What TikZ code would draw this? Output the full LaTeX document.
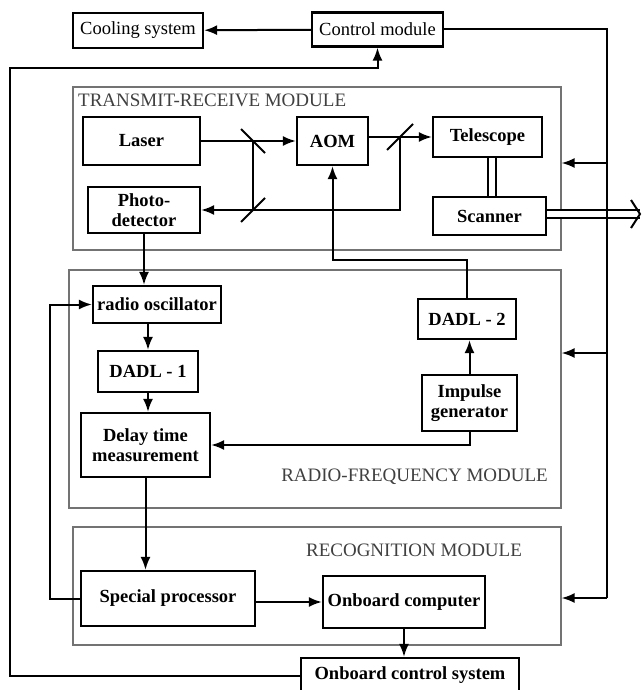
\documentclass[tikz,border=0pt]{standalone}
\usepackage{fontspec}
\setmainfont{Liberation Serif}
\usetikzlibrary{arrows.meta}

\begin{document}
\begin{tikzpicture}[x=1pt,y=-1pt,
  blk/.style={draw,line width=2.2pt,font=\fontsize{18.5}{20}\selectfont\bfseries,align=center,inner sep=0},
  plainblk/.style={blk,font=\fontsize{18.5}{20}\selectfont},
  module/.style={draw=black!55,line width=1.1pt,inner sep=0},
  modlabel/.style={text=black!75,font=\fontsize{19}{20}\selectfont,inner sep=0},
  ln/.style={line width=2pt},
  arr/.style={ln,-{Latex[length=13pt,width=10pt]}}]
\clip (0,0) rectangle (641,690);
\fill[white] (0,0) rectangle (641,690);
% modules
\node[module,minimum width=488,minimum height=163] (trm) at (317,168.5) {};
\node[module,minimum width=492,minimum height=238] (rfm) at (315,389) {};
\node[module,minimum width=488,minimum height=118] (recm) at (317,586) {};
\node[modlabel,anchor=west] (trlab) at (78,100) {TRANSMIT-RECEIVE MODULE};
\node[modlabel,anchor=east] (rflab) at (548,477) {RADIO-FREQUENCY MODULE};
\node[modlabel] (reclab) at (414,550) {RECOGNITION MODULE};
% top
\node[plainblk,minimum width=130,minimum height=35] (cool) at (138,30.5) {Cooling system};
\node[plainblk,minimum width=131,minimum height=34] (ctrl) at (377.5,29.5) {Control module};
% transmit-receive
\node[blk,minimum width=117,minimum height=48] (laser) at (141.5,141) {Laser};
\node[blk,minimum width=112,minimum height=46] (pd) at (144,210) {Photo-\\detector};
\node[blk,minimum width=71,minimum height=48] (aom) at (332.5,141) {AOM};
\node[blk,minimum width=109,minimum height=40] (tel) at (487.5,137) {Telescope};
\node[blk,minimum width=113,minimum height=38] (scan) at (489.5,216) {Scanner};
\coordinate (m1) at (253,141);
\coordinate (m2) at (253,210);
\coordinate (m3) at (400,137);
% radio-frequency
\node[blk,minimum width=128,minimum height=37] (rosc) at (157,304.5) {radio oscillator};
\node[blk,minimum width=100,minimum height=41] (dadl1) at (148,371.5) {DADL - 1};
\node[blk,minimum width=129,minimum height=64] (delay) at (145.5,445) {Delay time\\measurement};
\node[blk,minimum width=98,minimum height=40] (dadl2) at (467,319) {DADL - 2};
\node[blk,minimum width=95,minimum height=56] (imp) at (469.5,403) {Impulse\\generator};
% recognition
\node[blk,minimum width=174,minimum height=55] (sp) at (168,598.5) {Special processor};
\node[blk,minimum width=162,minimum height=52] (oc) at (404,602) {Onboard computer};
\node[blk,minimum width=218,minimum height=35] (ocs) at (410,675.5) {Onboard control system};
% bus points
\coordinate (tr1) at (607,163);
\coordinate (rf1) at (607,353);
\coordinate (bb) at (607,598);
\coordinate (lb) at (10,68);
\coordinate (lp) at (50,304.5);
\coordinate (ta) at (332.5,260);
\coordinate (ext) at (640,214);

% optical paths
\draw[arr] (laser) -- (aom);
\draw[arr] (aom.east |- tel) -- (tel.west);
\draw[ln] (m1) -- (m2);
\draw[arr] (m3) |- (pd.east);
\draw[ln] ([shift={(-12,-12)}]m1) -- ([shift={(12,12)}]m1);
\draw[ln] ([shift={(-12,12)}]m2) -- ([shift={(12,-12)}]m2);
\draw[ln] ([shift={(-13,13)}]m3) -- ([shift={(13,-13)}]m3);
\draw[ln,double,double distance=6pt] ([xshift=4.5]tel.south) -- ([xshift=4.5]tel.south |- scan.north);
\draw[ln,double,double distance=6pt] (scan.east |- ext) -- (ext);
\draw[ln] (ext) ++(-9,-14) -- (ext) -- ++(-9,14);

% control lines
\draw[arr] (ctrl) -- (cool);
\draw[ln] (ctrl.east) -| (bb);
\draw[arr] (tr1) -- (tr1 -| trm.east);
\draw[arr] (rf1) -- (rf1 -| rfm.east);
\draw[arr] (bb) -- (bb -| recm.east);
\draw[arr] (ocs.west) -| (lb) -| (ctrl.south);

% signal chain
\draw[arr] (pd.south) -- (pd.south |- rosc.north);
\draw[arr] (dadl1 |- rosc.south) -- (dadl1.north);
\draw[arr] (dadl1.south) -- (dadl1 |- delay.north);
\draw[arr] (delay.south) -- (delay.south |- sp.north);
\draw[arr] (sp.east |- oc) -- (oc.west);
\draw[arr] (oc.south) -- (oc.south |- ocs.north);
\draw[arr] (sp.west) -| (lp) -- (rosc.west);
\draw[arr] (imp.north) -- (imp.north |- dadl2.south);
\draw[arr] (imp.south) |- (delay.east);
\draw[arr] (dadl2.north) |- (ta) -- (aom.south);
\end{tikzpicture}
\end{document}
